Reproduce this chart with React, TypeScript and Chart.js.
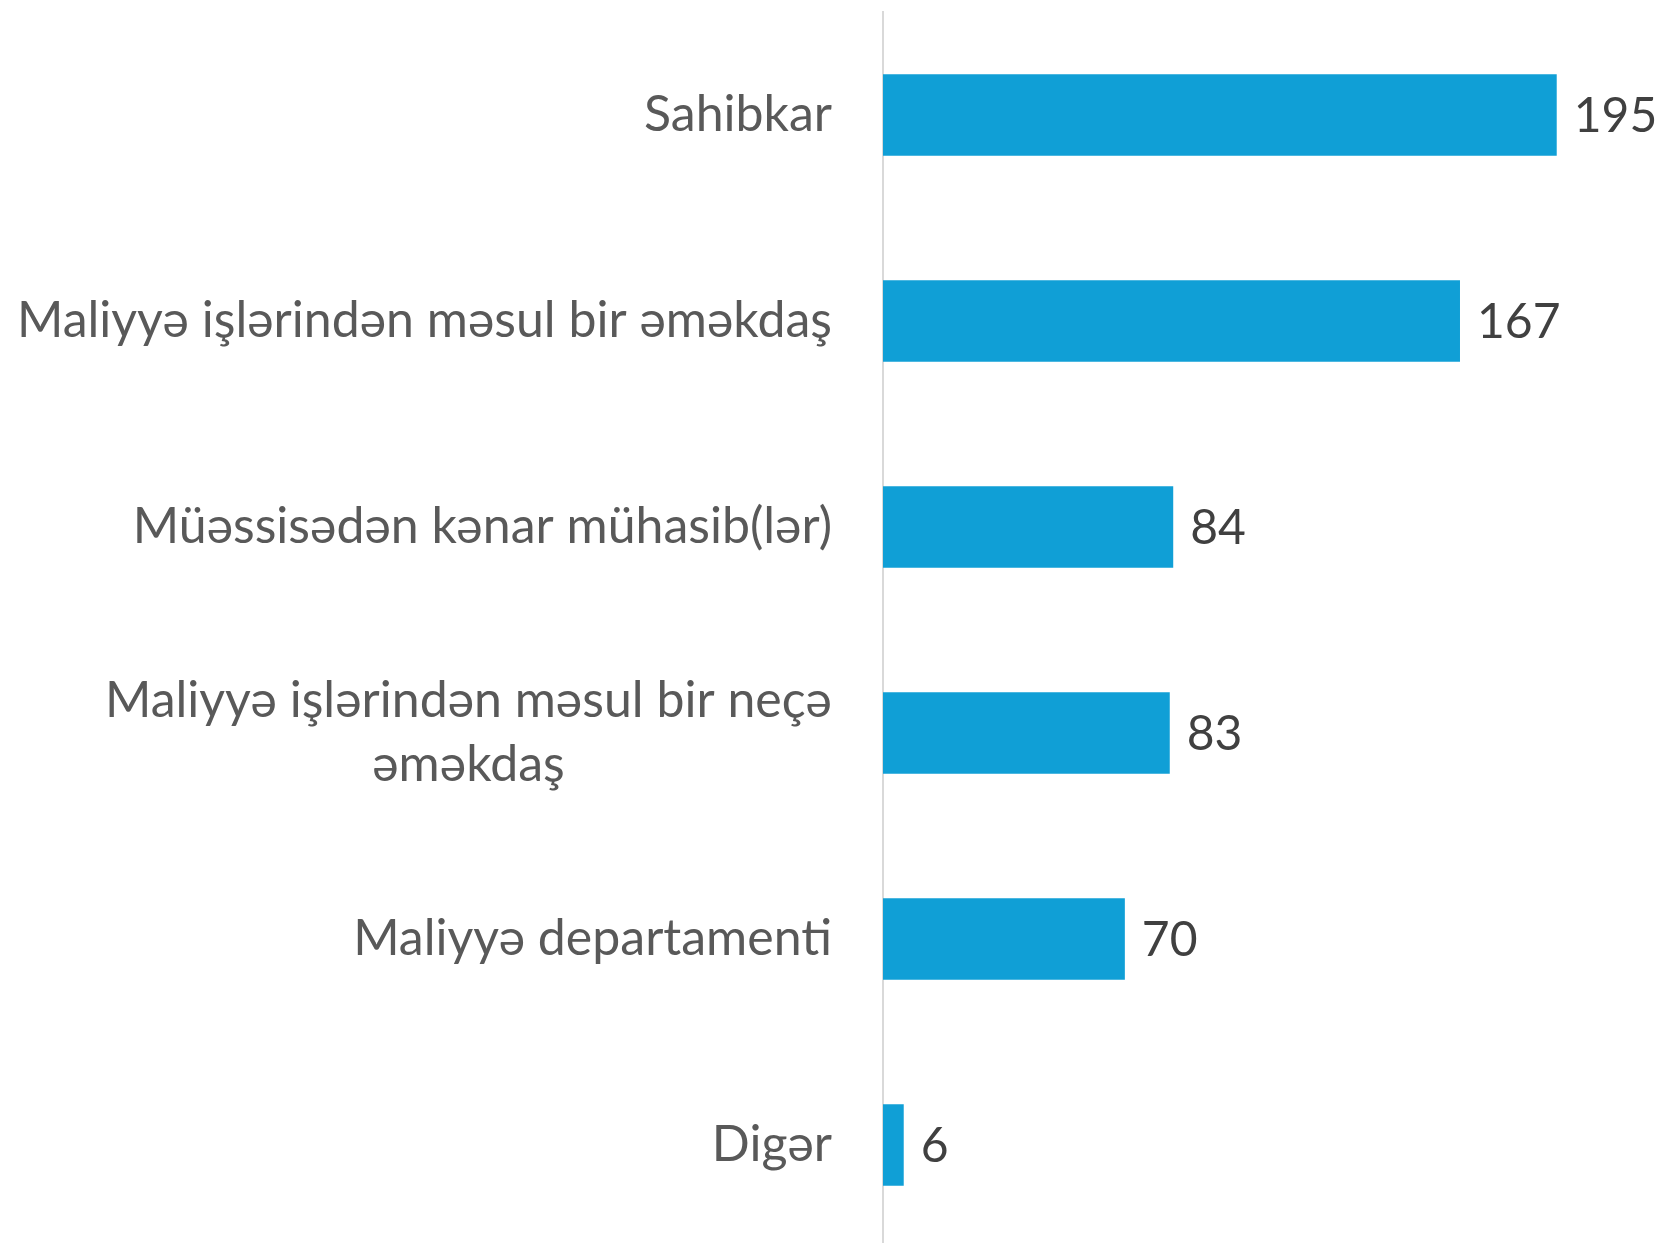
import React, { useEffect, useRef } from "react";
import { Chart, registerables } from "chart.js";

Chart.register(...registerables);

const categories: (string | string[])[] = [
  "Sahibkar",
  "Maliyyə işlərindən məsul bir əməkdaş",
  "Müəssisədən kənar mühasib(lər)",
  ["Maliyyə işlərindən məsul bir neçə", "əməkdaş"],
  "Maliyyə departamenti",
  "Digər",
];
const values = [195, 167, 84, 83, 70, 6];

const FONT = "Lato, 'Open Sans', sans-serif";
const LABEL_SIZE = 50;
const VALUE_SIZE = 48;

const labelsPlugin = {
  id: "customLabels",
  afterDraw(chart: any) {
    const ctx = chart.ctx;
    const yScale = chart.scales.y;
    const area = chart.chartArea;
    ctx.save();
    ctx.font = `${LABEL_SIZE}px ${FONT}`;
    ctx.fillStyle = "#595959";
    ctx.textBaseline = "middle";
    ctx.textAlign = "center";
    const right = area.left - 51;
    const lh = 64;
    categories.forEach((c, i) => {
      const lines = Array.isArray(c) ? c : [c];
      const maxW = Math.max(...lines.map((l) => ctx.measureText(l).width));
      const cx = right - maxW / 2;
      const yc = yScale.getPixelForTick(i);
      lines.forEach((l, j) => {
        ctx.fillText(l, cx, yc + (j - (lines.length - 1) / 2) * lh);
      });
    });
    ctx.font = `${VALUE_SIZE}px ${FONT}`;
    ctx.fillStyle = "#404040";
    ctx.textAlign = "left";
    const meta = chart.getDatasetMeta(0);
    meta.data.forEach((el: any, i: number) => {
      ctx.fillText(String(values[i]), el.x + 17, el.y + 2);
    });
    ctx.restore();
  },
};

export default function App() {
  const ref = useRef<HTMLCanvasElement>(null);
  useEffect(() => {
    if (!ref.current) return;
    const chart = new Chart(ref.current, {
      type: "bar",
      data: {
        labels: categories as any,
        datasets: [
          {
            data: values,
            backgroundColor: "#109FD6",
            borderWidth: 0,
            barPercentage: 0.396,
            categoryPercentage: 1,
          },
        ],
      },
      options: {
        indexAxis: "y",
        animation: false,
        responsive: true,
        maintainAspectRatio: false,
        layout: { padding: { top: 12, right: 86, bottom: 0, left: 0 } },
        plugins: { legend: { display: false }, tooltip: { enabled: false } },
        scales: {
          x: { display: false, min: 0, max: 200 },
          y: {
            grid: { display: false, drawTicks: false },
            border: { display: true, color: "#D9D9D9", width: 2 },
            ticks: { display: false },
            afterFit: (scale: any) => {
              scale.width = 883;
            },
          },
        },
      },
      plugins: [labelsPlugin],
    });
    return () => chart.destroy();
  }, []);
  return (
    <div style={{ position: "absolute", left: 0, top: 0, width: 1660, height: 1243, overflow: "hidden", background: "#fff" }}>
      <div style={{ position: "relative", width: 1660, height: 1248 }}>
        <canvas ref={ref} />
      </div>
    </div>
  );
}
